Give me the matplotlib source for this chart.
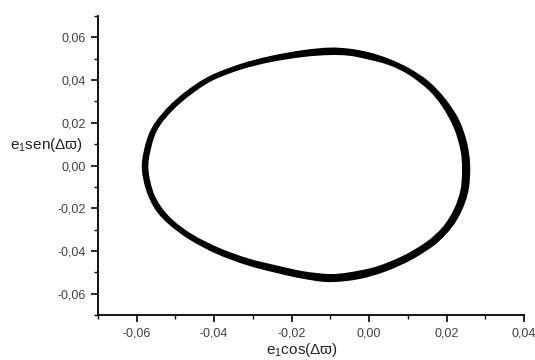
import matplotlib
matplotlib.use("Agg")
import matplotlib.pyplot as plt
from matplotlib.path import Path
from matplotlib.patches import PathPatch
from matplotlib.ticker import MultipleLocator, FuncFormatter

plt.rcParams['font.family'] = ['Liberation Sans', 'DejaVu Sans']
plt.rcParams['mathtext.fontset'] = 'custom'
plt.rcParams['mathtext.rm'] = 'Liberation Sans'
plt.rcParams['mathtext.it'] = 'Liberation Sans:italic'

# outer edge of the e1 cos / e1 sin trace (clockwise from the left tip)
outer_x = [-0.0587, -0.0574, -0.0553, -0.0517, -0.0472, -0.0412, -0.0335, -0.0257,
           -0.0172, -0.0103, -0.0051, 0.0000, 0.0051, 0.0103, 0.0154, 0.0197,
           0.0232, 0.0253, 0.0261, 0.0257, 0.0240, 0.0214, 0.0172, 0.0111,
           0.0043, -0.0026, -0.0103, -0.0172, -0.0240, -0.0317, -0.0395, -0.0463,
           -0.0515, -0.0551, -0.0576]
outer_y = [0.0000, 0.0121, 0.0200, 0.0278, 0.0349, 0.0419, 0.0474, 0.0512,
           0.0540, 0.0552, 0.0547, 0.0530, 0.0500, 0.0456, 0.0394, 0.0312,
           0.0215, 0.0106, 0.0000, -0.0114, -0.0209, -0.0289, -0.0368, -0.0440,
           -0.0496, -0.0532, -0.0546, -0.0530, -0.0503, -0.0466, -0.0413, -0.0348,
           -0.0279, -0.0209, -0.0114]

# inner edge of the same trace
inner_x = [-0.0570, -0.0557, -0.0538, -0.0506, -0.0463, -0.0406, -0.0331, -0.0254,
           -0.0170, -0.0103, -0.0052, -0.0004, 0.0051, 0.0103, 0.0154, 0.0189,
           0.0219, 0.0236, 0.0240, 0.0236, 0.0219, 0.0189, 0.0146, 0.0086,
           0.0017, -0.0051, -0.0103, -0.0170, -0.0236, -0.0312, -0.0388, -0.0455,
           -0.0505, -0.0537, -0.0559]
inner_y = [0.0000, 0.0121, 0.0192, 0.0260, 0.0328, 0.0396, 0.0449, 0.0484,
           0.0508, 0.0517, 0.0514, 0.0497, 0.0470, 0.0424, 0.0352, 0.0275,
           0.0175, 0.0070, -0.0020, -0.0114, -0.0205, -0.0290, -0.0360, -0.0424,
           -0.0474, -0.0500, -0.0508, -0.0495, -0.0469, -0.0435, -0.0385, -0.0324,
           -0.0258, -0.0193, -0.0114]

x_ticks = [-0.06, -0.04, -0.02, 0.00, 0.02, 0.04]
y_ticks = [-0.06, -0.04, -0.02, 0.00, 0.02, 0.04, 0.06]


def closed_curve(xs, ys):
    # smooth closed path through the edge points (Catmull-Rom as cubic Beziers)
    n = len(xs)
    pts = list(zip(xs, ys))
    verts = [pts[0]]
    codes = [Path.MOVETO]
    for i in range(n):
        p0 = pts[i - 1]
        p1 = pts[i]
        p2 = pts[(i + 1) % n]
        p3 = pts[(i + 2) % n]
        c1 = (p1[0] + (p2[0] - p0[0]) / 6, p1[1] + (p2[1] - p0[1]) / 6)
        c2 = (p2[0] - (p3[0] - p1[0]) / 6, p2[1] - (p3[1] - p1[1]) / 6)
        verts += [c1, c2, p2]
        codes += [Path.CURVE4] * 3
    return Path(verts, codes)


fig = plt.figure(figsize=(5.35, 3.6), dpi=100)
ax = fig.add_axes([98 / 535, 45 / 360, 426 / 535, 299 / 360])

ax.add_patch(PathPatch(closed_curve(outer_x, outer_y), fc='black', lw=0, zorder=2))
ax.add_patch(PathPatch(closed_curve(inner_x, inner_y), fc='white', lw=0, zorder=3))

ax.set_xlim(-0.07, 0.04)
ax.set_ylim(-0.07, 0.07)
ax.set_xticks(x_ticks)
ax.set_yticks(y_ticks)
ax.xaxis.set_minor_locator(MultipleLocator(0.01))
ax.yaxis.set_minor_locator(MultipleLocator(0.01))

comma = FuncFormatter(lambda v, pos: ('%.2f' % v).replace('.', ',').replace('-0,00', '0,00'))
ax.xaxis.set_major_formatter(comma)
ax.yaxis.set_major_formatter(comma)

for s in ['top', 'right']:
    ax.spines[s].set_visible(False)
for s in ['left', 'bottom']:
    ax.spines[s].set_linewidth(1.3)

ax.tick_params(which='major', direction='out', length=5, width=1.2, pad=4,
               labelsize=9, labelcolor='#404040')
ax.tick_params(which='minor', direction='out', length=3, width=1.0)

ax.set_xlabel('e$_1$cos(Δϖ)', fontsize=11, color='#222222', va='center')
ax.xaxis.set_label_coords(0.479, -0.117)
ax.set_ylabel('e$_1$sen(Δϖ)', fontsize=11, color='#222222', rotation=0,
              ha='center', va='center')
ax.yaxis.set_label_coords(-0.122, 0.569)

fig.savefig('out.png', dpi=100)
